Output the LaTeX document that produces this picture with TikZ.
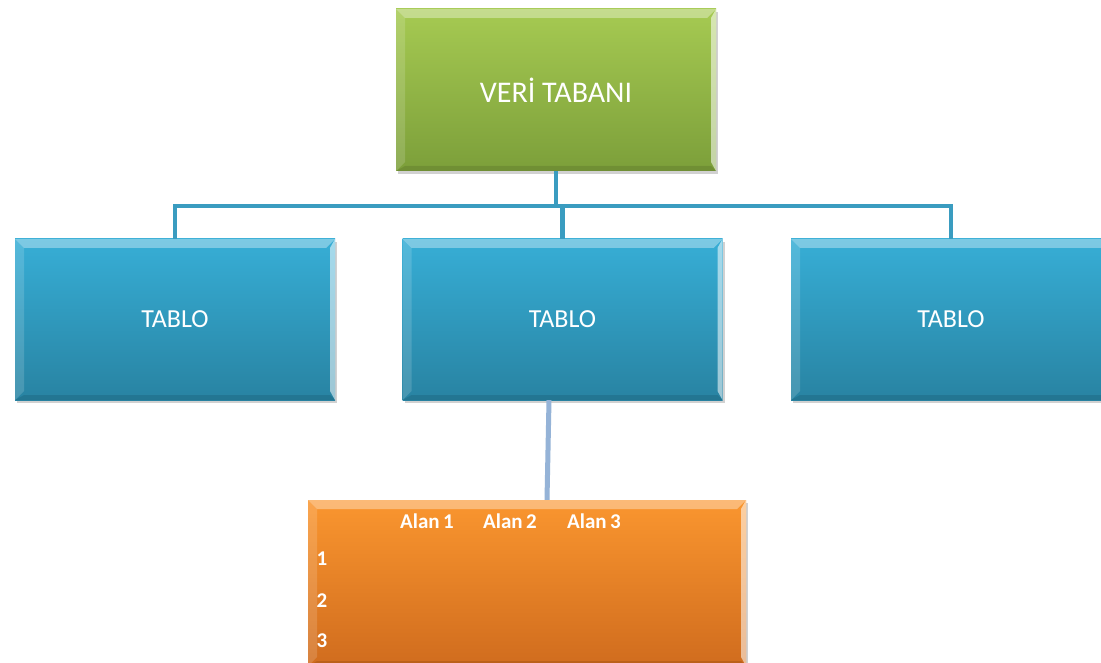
\documentclass[tikz,border=0pt]{standalone}
\usepackage{fontspec}
\setmainfont{Carlito}
\usetikzlibrary{calc}
\definecolor{grtop}{HTML}{A6CA52}
\definecolor{grbot}{HTML}{7C9F3A}
\definecolor{bltop}{HTML}{37AED6}
\definecolor{blbot}{HTML}{2883A2}
\definecolor{ortop}{HTML}{FA962F}
\definecolor{orbot}{HTML}{D06C1E}
\definecolor{linkc}{HTML}{3A9CC0}
\definecolor{linkb}{HTML}{95B3D7}
\tikzset{
  x=1pt, y=-1pt,
  bevel/.style={path picture={
    \fill[white,opacity=0.35] (path picture bounding box.north west) -- (path picture bounding box.north east)
      -- ([shift={(-9pt,-9pt)}]path picture bounding box.north east) -- ([shift={(9pt,-9pt)}]path picture bounding box.north west) -- cycle;
    \fill[white,opacity=0.15] (path picture bounding box.north west) -- ([shift={(9pt,-9pt)}]path picture bounding box.north west)
      -- ([shift={(9pt,9pt)}]path picture bounding box.south west) -- (path picture bounding box.south west) -- cycle;
    \fill[white,opacity=0.55] (path picture bounding box.north east) -- ([shift={(-5pt,-9pt)}]path picture bounding box.north east)
      -- ([shift={(-5pt,9pt)}]path picture bounding box.south east) -- (path picture bounding box.south east) -- cycle;
    \fill[black,opacity=0.10] (path picture bounding box.south west) -- ([shift={(9pt,5pt)}]path picture bounding box.south west)
      -- ([shift={(-5pt,5pt)}]path picture bounding box.south east) -- (path picture bounding box.south east) -- cycle;
  }},
  box/.style={rectangle, inner sep=0pt, text=white, bevel,
    preaction={fill=black, opacity=0.18, transform canvas={shift={(2pt,-3pt)}}}},
  dbbox/.style={box, top color=grtop, bottom color=grbot, minimum width=320pt, minimum height=162pt,
    font=\fontsize{30}{36}\selectfont},
  tbbox/.style={box, top color=bltop, bottom color=blbot, minimum width=320pt, minimum height=161pt,
    font=\fontsize{26}{31}\selectfont},
  orbox/.style={box, top color=ortop, bottom color=orbot, minimum width=438pt, minimum height=166pt},
  lbl/.style={text=white, inner sep=0pt, font=\bfseries\fontsize{21}{25}\selectfont},
  link/.style={draw=linkc, line width=4.5pt},
  link2/.style={draw=linkb, line width=5pt},
}
\begin{document}
\begin{tikzpicture}
\useasboundingbox (0,0) rectangle (1101,663);
\clip (0,0) rectangle (1101,663);
\fill[white] (0,0) rectangle (1101,663);
\coordinate (busy) at (0,206);
\node[dbbox] (db) at (556,90) {VERİ TABANI};
\node[tbbox] (t1) at (175,319.5) {TABLO};
\node[tbbox] (t2) at (562.5,319.5) {TABLO};
\node[tbbox] (t3) at (951,319.5) {TABLO};
\node[orbox] (ob) at (527,583) {};
\draw[link] (db.south) -- (db.south |- busy);
\draw[link,line cap=rect] (t1.north |- busy) -- (t3.north |- busy);
\draw[link] (t1.north |- busy) -- (t1.north);
\draw[link] (t2.north |- busy) -- (t2.north);
\draw[link] (t3.north |- busy) -- (t3.north);
\draw[link2] ([xshift=-13.5pt]t2.south) -- ([xshift=20pt]ob.north);
\node[lbl] (a1) at (427,521) {Alan\,1};
\node[lbl] (a2) at (510,521) {Alan\,2};
\node[lbl] (a3) at (594,521) {Alan\,3};
\node[lbl] (r1) at (322,559) {1};
\node[lbl] (r2) at (322,601) {2};
\node[lbl] (r3) at (322,641) {3};
\end{tikzpicture}
\end{document}
